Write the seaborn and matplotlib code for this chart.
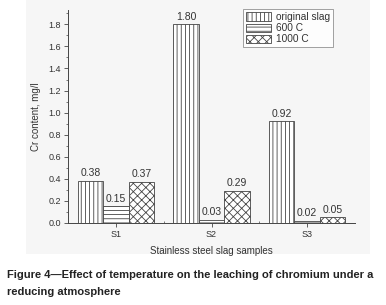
import numpy as np
import pandas as pd
import matplotlib
matplotlib.use('Agg')
import matplotlib.pyplot as plt
from matplotlib.patches import Rectangle
import seaborn as sns

# data
samples = ['S1', 'S2', 'S3']
original_slag = [0.38, 1.80, 0.92]
c600 = [0.15, 0.03, 0.02]
c1000 = [0.37, 0.29, 0.05]
series_names = ['original slag', '600 C', '1000 C']

df = pd.DataFrame({
    'sample': samples * 3,
    'cr': original_slag + c600 + c1000,
    'series': [series_names[0]] * 3 + [series_names[1]] * 3 + [series_names[2]] * 3,
})

sns.set_theme(style='ticks')
plt.rcParams['font.family'] = ['Liberation Sans', 'DejaVu Sans']
plt.rcParams['hatch.color'] = '#555555'
plt.rcParams['hatch.linewidth'] = 0.6

fig = plt.figure(figsize=(3.86, 3.05), dpi=100)
# faint grey panel behind the chart
fig.patches.append(Rectangle((26 / 386, 1 - 254 / 305), (370 - 26) / 386, 254 / 305,
                             transform=fig.transFigure, facecolor='#f6f6f6',
                             edgecolor='none', zorder=-5))
ax = fig.add_axes([68 / 386, 1 - 223 / 305, (355 - 68) / 386, (223 - 10) / 305])
ax.set_facecolor('none')
ax.set_zorder(2)

sns.barplot(data=df, x='sample', y='cr', hue='series', hue_order=series_names,
            order=samples, width=0.8, gap=0, ax=ax, palette=['white'] * 3,
            edgecolor='#444444', linewidth=0.6, saturation=1)

hatches = ['||||', '----', 'xxxx']
for cont, h in zip(ax.containers, hatches):
    for bar in cont:
        bar.set_hatch(h)
        bar.set_facecolor('white')
        bar.set_edgecolor('#444444')
    ax.bar_label(cont, fmt='%.2f', fontsize=7.5, padding=2, color='#333333')

ax.set_xlim(-0.5, 2.5)
ax.set_ylim(0, 1.93)
ax.set_yticks(np.arange(0, 1.81, 0.2))
ax.set_yticklabels([f'{v:.1f}' for v in np.arange(0, 1.81, 0.2)])
ax.set_yticks(np.arange(0.1, 1.91, 0.2), minor=True)
ax.set_xticks([0.5, 1.5], minor=True)
ax.tick_params(axis='both', which='major', labelsize=6.5, colors='#444444',
               length=3, width=0.6, pad=2)
ax.tick_params(axis='both', which='minor', length=1.8, width=0.5, colors='#444444')
ax.tick_params(axis='x', which='minor', direction='in')
for lab in ax.get_xticklabels() + ax.get_yticklabels():
    lab.set_color('#333333')

sns.despine(ax=ax, top=True, right=True)
for sp in ['left', 'bottom']:
    ax.spines[sp].set_linewidth(0.7)
    ax.spines[sp].set_color('#444444')

ax.set_xlabel('Stainless steel slag samples', fontsize=7, color='#333333', labelpad=5)
ax.set_ylabel('Cr content, mg/l', fontsize=7, color='#333333', labelpad=5)

leg = ax.legend(loc='upper right', bbox_to_anchor=(0.925, 1.005), fontsize=7.3,
                frameon=True, fancybox=False, handlelength=2.5, handleheight=0.85,
                borderpad=0.3, labelspacing=0.12, handletextpad=0.5,
                borderaxespad=0)
leg.get_frame().set_edgecolor('#777777')
leg.get_frame().set_linewidth(0.6)
leg.get_frame().set_facecolor('white')
for patch, h in zip(leg.get_patches(), hatches):
    patch.set_hatch(h)
    patch.set_facecolor('white')
    patch.set_edgecolor('#444444')
for t in leg.get_texts():
    t.set_color('#333333')

fig.text(7 / 386, 1 - 275 / 305,
         'Figure 4\u2014Effect of temperature on the leaching of chromium under a',
         fontsize=8.0, fontweight='bold', color='#222222', va='center')
fig.text(7 / 386, 1 - 292 / 305, 'reducing atmosphere',
         fontsize=8.0, fontweight='bold', color='#222222', va='center')

fig.savefig('out.png', dpi=100)
